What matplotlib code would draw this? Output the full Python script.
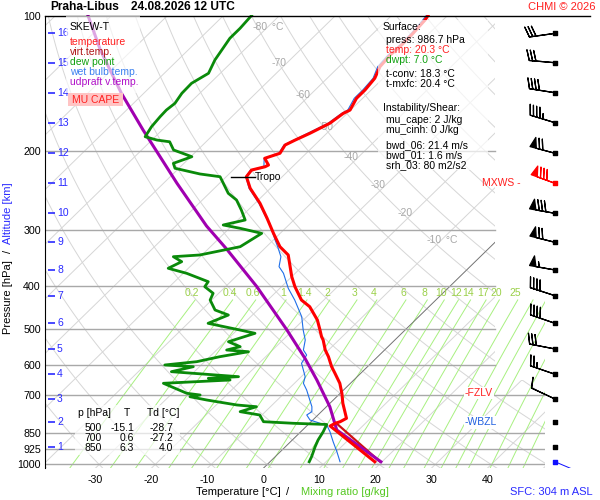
import numpy as np
import matplotlib.pyplot as plt
from matplotlib.patches import Rectangle, Polygon
from matplotlib.lines import Line2D

plt.rcParams['font.family'] = ['Liberation Sans', 'DejaVu Sans']
plt.rcParams['axes.unicode_minus'] = False

# sounding (hPa, degC), bottom -> top
temp_p = [986, 820.8, 809.5, 802.9, 789.1, 762.7, 730.6, 694.1, 659.4, 626.4, 605.6, 575.3,
          555.9, 528.1, 519.2, 501.7, 476.6, 445.2, 430.2, 401.8, 381.7, 341.5, 327.3, 305.6,
          282.9, 262.0, 242.6, 228.6, 220.9, 217.2, 215.3, 208.0, 202.7, 194.3, 189.4, 182.9,
          173.8, 165.2, 162.4, 152.9, 146.5, 138.0, 130.0, 122.5, 116.3, 109.6, 102.3, 100]
temp_t = [18.7, 4.2, 4.6, 5.2, 5.7, 4.2, 2.3, 0.3, -1.9, -4.6, -6.4, -8.8,
          -10.6, -12.8, -13.7, -15.2, -17.5, -21.3, -24.0, -27.6, -30.0, -34.6, -37.6, -41.2,
          -45.1, -49.1, -53.6, -56.4, -56.7, -54.9, -54.6, -56.5, -54.7, -55.3, -54.4, -53.0,
          -51.3, -50.7, -50.1, -51.1, -51.1, -51.5, -52.7, -53.0, -52.8, -52.9, -53.2, -53.5]

tv_p = [984, 808.3]
tv_t = [19.5, 4.7]

dew_p = [986, 960.8, 912.8, 881.9, 845.2, 814.5, 809.5, 802.9, 775.8, 762.7, 743.5, 737.0,
         718.4, 706.4, 700.2, 694.1, 659.4, 648.4, 642.7, 637.4, 621.3, 605.6, 600.3, 590.2,
         575.3, 560.8, 555.9, 546.5, 532.8, 510.3, 501.7, 484.8, 464.6, 452.8, 430.2, 415.6,
         401.8, 391.6, 375.1, 365.6, 353.4, 344.5, 341.5, 327.3, 305.6, 297.8, 292.8, 285.4,
         271.2, 257.6, 248.9, 228.6, 225.4, 218.9, 213.4, 206.3, 199.3, 191.1, 189.4, 186.2,
         176.9, 168.0, 162.4, 156.9, 149.0, 141.6, 138.0, 134.5, 125.6, 119.3, 112.4, 106.8, 100]
dew_t = [7.0, 6.5, 5.3, 4.6, 4.0, 3.3, -2.9, -8.5, -10.4, -14.5, -12.5, -16.3,
         -22.6, -26.2, -24.7, -27.4, -33.4, -22.1, -26.3, -21.2, -34.1, -31.1, -36.5, -31.4,
         -28.2, -24.0, -28.2, -26.4, -29.4, -26.2, -29.5, -36.4, -34.3, -37.6, -40.3, -41.0,
         -43.7, -44.0, -49.4, -53.6, -52.4, -54.8, -50.4, -44.7, -43.3, -48.1, -51.7, -48.7,
         -51.2, -53.9, -56.6, -61.1, -65.2, -70.7, -71.9, -69.8, -74.3, -76.5, -79.1, -81.8,
         -82.5, -82.8, -82.9, -82.6, -83.2, -83.3, -82.7, -82.1, -83.4, -84.0, -84.7, -84.7, -85.0]

wb_p = [986, 936.5, 889.7, 845.2, 816.6, 809.5, 796.0, 775.8, 762.7, 743.5, 682.4, 659.4,
        637.4, 595.1, 570.4, 555.9, 528.1, 501.7, 468.6, 430.2, 405.1, 375.1, 362.6, 344.5,
        327.3, 316.2, 290.3, 282.9, 262.0, 242.6, 228.6, 220.9, 217.2, 208.0, 202.7, 194.3,
        189.4, 182.9, 173.8, 165.2, 162.4, 152.9, 146.5, 138.0, 130.0, 122.5, 116.3, 109.6,
        102.3, 100]
wb_t = [12.5, 10.1, 7.6, 5.2, 3.4, 1.9, -0.5, -2.0, -1.7, -2.6, -6.6, -8.4,
        -9.3, -12.4, -13.0, -14.5, -16.0, -18.2, -20.9, -25.2, -28.5, -32.1, -34.1, -35.6,
        -38.0, -39.7, -43.7, -45.2, -49.3, -53.8, -56.5, -56.9, -55.1, -56.6, -54.9, -55.5,
        -54.6, -53.4, -51.6, -51.0, -50.5, -51.5, -51.5, -51.8, -53.1, -53.4, -53.1, -53.2,
        -53.6, -53.8]

parcel_p = [986, 837.8, 743.5, 648.4, 580.1, 501.7, 401.8, 331.2, 294.3, 236.4, 179.9, 149.0, 119.3, 100]
parcel_t = [19.8, 6.1, 0.6, -6.6, -12.7, -21.1, -34.4, -46.7, -54.5, -67.6, -83.4, -94.0, -105.7, -114.2]

tropo_p, tropo_t = 228.6, -56.4
fzlv_p, wbzl_p, mxws_p = 693.0, 805.4, 235.7

# altitude scale and winds (one barb per km)
km = [16, 15, 14, 13, 12, 11, 10, 9, 8, 7, 6, 5, 4, 3, 2, 1]
km_p = [109.6, 127.4, 148.6, 173.3, 202.7, 235.7, 275.8, 320.0, 368.8, 420.8, 484.8, 553.0,
        629.6, 714.7, 805.4, 912.8]
wind_dir = [262, 275, 279, 287, 285, 290, 280, 284, 280, 288, 289, 281, 289, 295, 0, 0]
wind_kt = [30, 30, 40, 45, 70, 80, 80, 70, 55, 40, 40, 30, 25, 10, 0, 0]
sfc_p, sfc_dir = 986, 113

isobars = [100, 200, 300, 400, 500, 600, 700, 850, 925, 1000]
t_ticks = [-30, -20, -10, 0, 10, 20, 30, 40]
iso_lab_t = [-80, -70, -60, -50, -40, -30, -20, -10]
iso_lab_p = [106.1, 127.6, 150.3, 177.2, 206.6, 238.5, 275.4, 316.2]
mr_vals = [0.2, 0.4, 0.6, 1, 1.4, 2, 3, 4, 6, 8, 10, 12, 14, 17, 20, 25]
mr_extra = [30, 35, 40, 50, 60, 70]

tab_p = [500, 700, 850]
tab_t = [-15.1, 0.6, 6.3]
tab_td = [-28.7, -27.2, 4.0]

K = 35.7
P_BOT, P_TOP = 1019.7, 100.0
W, H = 600, 500


def skx(t, p):
    return np.asarray(t, float) + K * np.log(P_BOT / np.asarray(p, float))


def td_from_w(w, p):
    e = w * p / (622.0 + w)
    a = np.log(e / 6.112)
    return 243.5 * a / (17.67 - a)


def ftext(x, y, s, **kw):
    kw.setdefault('va', 'center')
    kw.setdefault('fontsize', 7.5)
    kw.setdefault('zorder', 7)
    return fig.text(x / W, 1 - y / H, s, **kw)


def fbox(x0, y0, x1, y1, **kw):
    fig.add_artist(Rectangle((x0 / W, 1 - y1 / H), (x1 - x0) / W, (y1 - y0) / H,
                             transform=fig.transFigure, lw=0, zorder=6, **kw))


fig = plt.figure(figsize=(6, 5), dpi=100)
ax = fig.add_axes([45 / W, 1 - 468.3 / H, 500 / W, 452.8 / H])
ax.set_yscale('log')
ax.set_ylim(P_BOT, P_TOP)
ax.set_xlim(-38.98, 50.3)
ax.minorticks_off()
ax.set_yticks(isobars)
ax.set_yticklabels([str(p) for p in isobars])
ax.set_xticks(t_ticks)
ax.set_xticklabels([str(t) for t in t_ticks])
ax.tick_params(length=0, labelsize=7.7)
ax.tick_params(axis='y', pad=3)
ax.tick_params(axis='x', pad=5)
for s in ['top', 'right', 'bottom']:
    ax.spines[s].set_visible(False)
ax.spines['left'].set_color('black')

clip = Polygon([(0, P_TOP), (0.9, P_TOP), (0.9, 650), (1, 650), (1, P_BOT), (0, P_BOT)],
               closed=True, transform=ax.get_yaxis_transform(), fc='none', ec='none')

pl = np.geomspace(P_BOT, P_TOP, 80)
for t in range(-130, 60, 10):
    ax.plot(skx(t, pl), pl, color='#d6d6d6', lw=0.7, clip_path=clip, zorder=1)
for th in range(-40, 250, 10):
    tt = (th + 273.15) * (pl / 1000.0) ** 0.2857 - 273.15
    ax.plot(skx(tt, pl), pl, color='#d6d6d6', lw=0.7, clip_path=clip, zorder=1)
ax.plot(skx(0, pl), pl, color='#707070', lw=0.6, clip_path=clip, zorder=1.5)

pm = np.geomspace(P_BOT, 430, 30)
for w in mr_vals + mr_extra:
    ax.plot(skx(td_from_w(w, pm), pm), pm, color='#a8f080', lw=0.7, zorder=1.2)
for w in mr_vals:
    lab = ('%g' % w)
    ax.text(skx(td_from_w(w, 430.0), 430.0) - 0.5, 416, lab, color='#9ad048',
            fontsize=7.5, ha='center', va='center', zorder=2)

for p in isobars[1:]:
    ax.axhline(p, xmin=0, xmax=0.9 if p <= 600 else 1.0, color='#a8a8a8', lw=1, zorder=1.8)

for t, p in zip(iso_lab_t, iso_lab_p):
    ax.text(skx(t, p), p, str(t), color='#a8a8a8', fontsize=7.5, ha='right', va='center', zorder=2)
    if t in (-80, -10):
        ax.text(skx(t, p) + 0.3, p, ' °C', color='#a8a8a8', fontsize=7.5, ha='left',
                va='center', zorder=2)

# profiles
ax.plot(skx(wb_t, wb_p), wb_p, color='#1f6fe8', lw=0.8, zorder=4)
ax.plot(skx(tv_t, tv_p), tv_p, color='#d01010', lw=1.6, zorder=4)
ax.plot(skx(temp_t, temp_p), temp_p, color='#ff0000', lw=2.2, zorder=5)
ax.plot(skx(dew_t, dew_p), dew_p, color='#0a8a0a', lw=2.0, zorder=5)
ax.plot(skx(parcel_t, parcel_p), parcel_p, color='#a000b0', lw=2.2, zorder=4.5)

# tropopause mark
xt = float(skx(tropo_t, tropo_p))
ax.plot([xt - 2.7, xt + 1.5], [tropo_p, tropo_p], color='black', lw=1, zorder=6)
ax.text(xt + 1.5, tropo_p, 'Tropo', fontsize=7.5, ha='left', va='center', zorder=6)

yt = ax.get_yaxis_transform()
ax.text(0.84, fzlv_p, '-FZLV', color='#ff2020', fontsize=7.5, ha='left', va='center',
        transform=yt, zorder=6, bbox=dict(fc='white', ec='none', pad=1))
ax.text(0.84, wbzl_p, '-WBZL', color='#2060e0', fontsize=7.5, ha='left', va='center',
        transform=yt, zorder=6, bbox=dict(fc='white', ec='none', pad=1))
ax.text(0.952, mxws_p, 'MXWS -', color='#ff2020', fontsize=7.5, ha='right', va='center',
        transform=yt, zorder=6, clip_on=False)

# altitude ticks
ax.hlines(km_p, 0.006, 0.02, transform=yt, color='#2a2aff', lw=1.2, zorder=6)
for k, p in zip(km, km_p):
    ax.text(0.024, p, str(k), transform=yt, color='#2a2aff', fontsize=7.5, ha='left',
            va='center', zorder=6)

# wind barbs
axw = fig.add_axes([500 / W, 1 - 468.3 / H, 100 / W, 452.8 / H])
axw.set_yscale('log')
axw.set_ylim(P_BOT, P_TOP)
axw.set_xlim(0, 1)
axw.axis('off')
d = np.radians(wind_dir)
u = -np.array(wind_kt) * np.sin(d)
v = -np.array(wind_kt) * np.cos(d)
kp = np.array(km_p)
spd = np.array(wind_kt)
red = kp == mxws_p
blk = (spd > 0) & ~red
axw.barbs(np.full(blk.sum(), 0.55), kp[blk], u[blk], v[blk], length=6.1, lw=0.9,
          color='black', sizes=dict(spacing=0.13, height=0.4, width=0.25))
axw.barbs(np.full(red.sum(), 0.55), kp[red], u[red], v[red], length=6.1, lw=0.9,
          color='#ff0000', sizes=dict(spacing=0.13, height=0.4, width=0.25))
axw.scatter(np.full(len(kp), 0.55), kp, marker='s', s=8,
            c=['#ff0000' if r else 'black' for r in red], zorder=5)
ds = np.radians(sfc_dir)
axw.quiver([0.55], [sfc_p], [np.sin(ds)], [np.cos(ds)], angles='uv', scale_units='dots',
           scale=1 / 25.0, units='dots', width=1, headwidth=0, headlength=0,
           headaxislength=0, pivot='tail', color='#1010ff')
axw.scatter([0.55], [sfc_p], marker='s', s=8, c='#1010ff', zorder=5)

# frame line at 100 hPa
fig.add_artist(Line2D([45 / W, 590 / W], [1 - 15.5 / H, 1 - 15.5 / H], color='black', lw=1,
                      transform=fig.transFigure))

# titles and labels
ftext(50, 7, 'Praha-Libus', fontsize=8.6, fontweight='bold')
ftext(131, 7, '24.08.2026 12 UTC', fontsize=8.6, fontweight='bold')
ftext(596, 7, 'CHMI © 2026', color='#ff2020', fontsize=8, ha='right')
ftext(238.5, 492, 'Temperature [°C]', fontsize=8, ha='center')
ftext(288, 492, '/', fontsize=8, ha='center')
ftext(345, 492, 'Mixing ratio [g/kg]', fontsize=8, ha='center', color='#55c822')
ftext(551, 492, 'SFC: 304 m ASL', fontsize=8, ha='center', color='#2a2aff')
ftext(8, 297, 'Pressure [hPa]', fontsize=8, ha='center', rotation=90)
ftext(8, 251, '/', fontsize=8, ha='center', rotation=90)
ftext(8, 213, 'Altitude [km]', fontsize=8, ha='center', rotation=90, color='#2a2aff')

# legend box
fbox(66, 16, 140, 93, fc='white', alpha=0.65)
fbox(68, 93, 123, 106, fc='#ffc4c4')
ftext(70, 26.7, 'SKEW-T')
ftext(70, 42.3, 'temperature', color='#ff2020')
ftext(70, 52.3, 'virt.temp.', color='#b01818')
ftext(70, 62.3, 'dew point', color='#10a010')
ftext(70, 72.3, 'wet bulb temp.', color='#3a80f0')
ftext(70, 82.3, 'udpraft v.temp.', color='#b010c8')
ftext(95.5, 100, 'MU CAPE', color='#ff2020', ha='center')

# surface / instability box
fbox(378, 20, 488, 170, fc='white', alpha=0.7)
ftext(382.7, 27.3, 'Surface:')
ftext(386, 40, 'press: 986.7 hPa')
ftext(386, 50, 'temp: 20.3 °C', color='#ff2020')
ftext(386, 60, 'dwpt: 7.0 °C', color='#10a010')
ftext(386, 74, 't-conv: 18.3 °C')
ftext(386, 84, 't-mxfc: 20.4 °C')
ftext(382.7, 108.3, 'Instability/Shear:')
ftext(386, 119.7, 'mu_cape: 2 J/kg')
ftext(386, 129.7, 'mu_cinh: 0 J/kg')
ftext(386, 145, 'bwd_06: 21.4 m/s')
ftext(386, 155, 'bwd_01: 1.6 m/s')
ftext(386, 165, 'srh_03: 80 m2/s2')

# standard level table
fbox(75, 405, 180, 455, fc='white', alpha=0.7)
ftext(78, 413.3, 'p [hPa]')
ftext(127, 413.3, 'T', ha='center')
ftext(147, 413.3, 'Td [°C]')
for i, (p, t, td) in enumerate(zip(tab_p, tab_t, tab_td)):
    yy = 428.3 + 10 * i
    ftext(101.7, yy, str(p), ha='right')
    ftext(134.3, yy, '%.1f' % t, ha='right')
    ftext(173.3, yy, '%.1f' % td, ha='right')

fig.savefig('out.png', dpi=100)
